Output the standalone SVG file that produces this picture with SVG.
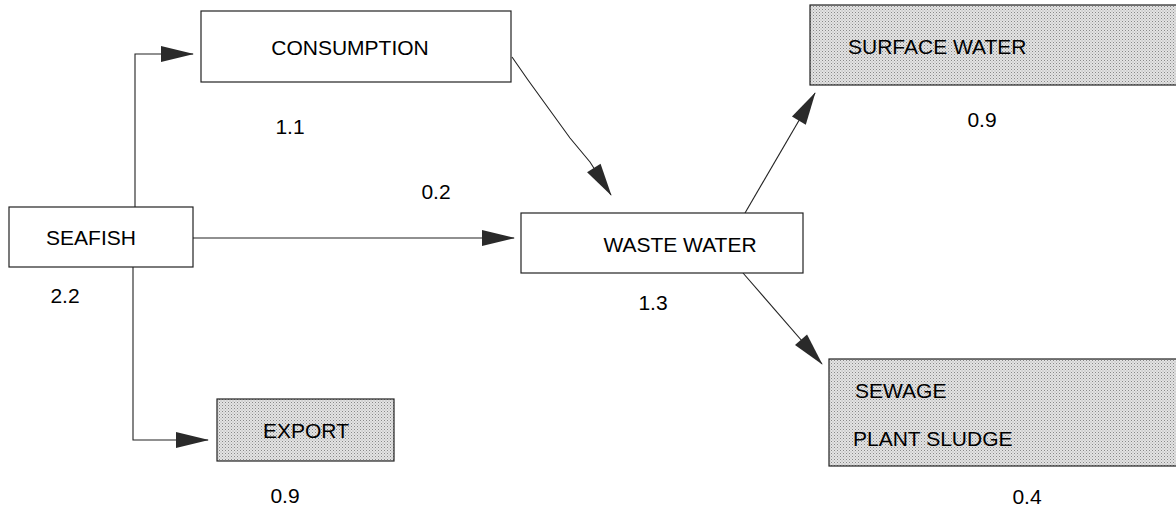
<svg xmlns="http://www.w3.org/2000/svg" width="1176" height="511" viewBox="0 0 1176 511">
<style>
.box{fill:#fff;stroke:#222;stroke-width:1.2}
.sh{fill:url(#stip);stroke:#222;stroke-width:1.2}
.t{font-family:"Liberation Sans",Arial,sans-serif;font-size:21px;fill:#000}
.c{stroke:#222;stroke-width:1.1;fill:none;marker-end:url(#ah)}
</style>
<defs>
<pattern id="stip" width="3" height="3" patternUnits="userSpaceOnUse">
<rect width="3" height="3" fill="#e3e3e3"/>
<rect width="1" height="1" fill="#888"/>
<rect x="1.5" y="1.5" width="1" height="1" fill="#aaa"/>
</pattern>
<marker id="ah" markerUnits="userSpaceOnUse" markerWidth="34" markerHeight="16" refX="32" refY="8" orient="auto" overflow="visible">
<path d="M0,0 L33,8 L0,16 Z" fill="#2a2a2a"/>
</marker>
</defs>
<rect width="1176" height="511" fill="#fff"/>
<g id="connectors">
<path class="c" d="M135,207 L135,54 L193,54"/>
<path class="c" d="M193,238 L514,238"/>
<path class="c" d="M133,267 L133,440 L208,440"/>
<path class="c" d="M512,57 L528,80 L570,138 L590,162 L611,195"/>
<path class="c" d="M745,213 L815,93"/>
<path class="c" d="M743,273 L822,364"/>
</g>
<g id="consumption">
<rect class="box" x="201" y="11" width="310" height="71"/>
<text class="t" x="350" y="55" text-anchor="middle">CONSUMPTION</text>
</g>
<g id="seafish">
<rect class="box" x="9" y="207" width="184" height="60"/>
<text class="t" x="91" y="245" text-anchor="middle">SEAFISH</text>
</g>
<g id="export">
<rect class="sh" x="217" y="399" width="177" height="62"/>
<text class="t" x="306" y="438" text-anchor="middle">EXPORT</text>
</g>
<g id="wastewater">
<rect class="box" x="521" y="213" width="282" height="60"/>
<text class="t" x="680" y="252" text-anchor="middle">WASTE WATER</text>
</g>
<g id="surfacewater">
<rect class="sh" x="810" y="5" width="370" height="80"/>
<text class="t" x="848" y="54">SURFACE WATER</text>
</g>
<g id="sewage">
<rect class="sh" x="829" y="359" width="350" height="107"/>
<text class="t" x="855" y="398">SEWAGE</text>
<text class="t" x="853" y="446">PLANT SLUDGE</text>
</g>
<g id="labels">
<text class="t" x="290" y="134" text-anchor="middle">1.1</text>
<text class="t" x="436" y="199" text-anchor="middle">0.2</text>
<text class="t" x="65" y="303" text-anchor="middle">2.2</text>
<text class="t" x="285" y="503" text-anchor="middle">0.9</text>
<text class="t" x="653" y="310" text-anchor="middle">1.3</text>
<text class="t" x="982" y="127" text-anchor="middle">0.9</text>
<text class="t" x="1027" y="504" text-anchor="middle">0.4</text>
</g>
</svg>
